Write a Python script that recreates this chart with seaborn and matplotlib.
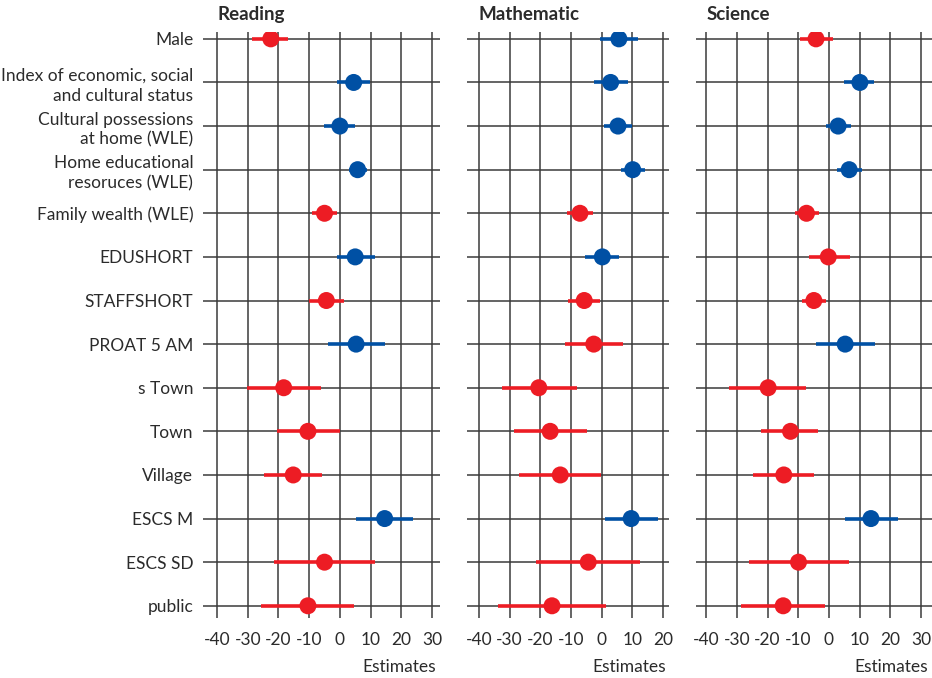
import numpy as np
import pandas as pd
import matplotlib.pyplot as plt
import matplotlib.transforms as mtransforms
import seaborn as sns

# Rows, top to bottom
categories = [
    'Male',
    'Index of economic, social\nand cultural status',
    'Cultural possessions\nat home (WLE)',
    'Home educational\nresoruces (WLE)',
    'Family wealth (WLE)',
    'EDUSHORT',
    'STAFFSHORT',
    'PROAT 5 AM',
    's Town',
    'Town',
    'Village',
    'ESCS M',
    'ESCS SD',
    'public',
]

subjects = ['Reading', 'Mathematic', 'Science']

# Point estimates and interval bounds
reading_est = [-22.5, 4.5, 0.0, 5.8, -5.0, 5.0, -4.4, 5.3, -18.3, -10.4, -15.2, 14.6, -5.0, -10.4]
reading_lo = [-28.5, -0.8, -5.1, 3.0, -9.0, -1.0, -10.0, -3.8, -30.4, -20.5, -24.7, 5.4, -21.4, -25.7]
reading_hi = [-17.0, 9.9, 5.0, 8.7, -1.0, 11.3, 1.2, 14.6, -6.0, -0.1, -5.7, 23.9, 11.3, 4.7]

math_est = [5.6, 2.9, 5.3, 10.1, -7.1, 0.2, -5.7, -2.6, -20.5, -16.8, -13.5, 9.6, -4.4, -16.2]
math_lo = [-0.6, -2.5, 0.6, 6.3, -11.2, -5.4, -10.9, -11.9, -32.5, -28.6, -27.0, 1.0, -21.3, -33.9]
math_hi = [11.9, 8.5, 9.9, 14.2, -3.0, 5.6, -0.4, 6.9, -8.2, -4.9, -0.1, 18.4, 12.5, 1.5]

science_est = [-4.2, 10.1, 3.0, 6.6, -7.3, -0.2, -4.9, 5.3, -19.8, -12.5, -14.7, 13.7, -9.9, -14.9]
science_lo = [-9.5, 4.9, -1.0, 2.5, -11.1, -6.5, -8.8, -4.2, -32.4, -22.0, -24.7, 5.2, -26.0, -28.8]
science_hi = [1.2, 14.7, 7.2, 10.7, -3.2, 6.9, -0.8, 15.0, -7.3, -3.4, -4.9, 22.6, 6.6, -1.3]

series = {
    'Reading': (reading_est, reading_lo, reading_hi),
    'Mathematic': (math_est, math_lo, math_hi),
    'Science': (science_est, science_lo, science_hi),
}

frames = []
for subj in subjects:
    est, lo, hi = series[subj]
    frames.append(pd.DataFrame({
        'subject': subj,
        'variable': categories,
        'row': np.arange(len(categories)),
        'est': est,
        'lo': lo,
        'hi': hi,
    }))
df = pd.concat(frames, ignore_index=True)
df['sign'] = np.where(df['est'] < 0, 'neg', 'pos')

palette = {'neg': '#ED1C24', 'pos': '#0050A4'}
text_color = '#2b2b2b'
grid_color = '#3a3a3a'

sns.set_theme(style='white')
plt.rcParams['font.family'] = ['Lato', 'DejaVu Sans']
plt.rcParams['axes.unicode_minus'] = False

xlims = {'Reading': (-44.6, 32.6), 'Mathematic': (-43.8, 21.9), 'Science': (-43.2, 33.6)}
xticks = {'Reading': np.arange(-40, 31, 10), 'Mathematic': np.arange(-40, 21, 10),
          'Science': np.arange(-40, 31, 10)}
widths = [xlims[s][1] - xlims[s][0] for s in subjects]

fig, axes = plt.subplots(1, 3, figsize=(9.32, 6.78), dpi=100,
                         gridspec_kw={'width_ratios': widths})
fig.subplots_adjust(left=0.2178, right=1.0, top=0.953, bottom=0.0885, wspace=0.122)

for i, (ax, subj) in enumerate(zip(axes, subjects)):
    d = df[df['subject'] == subj]
    for sign, color in palette.items():
        s = d[d['sign'] == sign]
        ax.hlines(s['row'], s['lo'], s['hi'], color=color, lw=2.6, zorder=3)
    sns.scatterplot(data=d, x='est', y='row', hue='sign', palette=palette,
                    s=150, linewidth=0, legend=False, ax=ax, zorder=4)

    ax.set_xlim(*xlims[subj])
    ax.set_ylim(len(categories) - 1 + 0.28, -0.16)
    ax.set_xticks(xticks[subj])
    ax.set_xticklabels([str(t) for t in xticks[subj]])
    ax.set_yticks(np.arange(len(categories)))
    ax.grid(True, color=grid_color, lw=1.1)
    ax.set_axisbelow(True)
    for sp in ax.spines.values():
        sp.set_visible(False)
    ax.tick_params(length=0, labelsize=12.5, colors=text_color, pad=10)
    ax.tick_params(axis='y', pad=7)
    if i == 0:
        ax.set_yticklabels(categories, linespacing=1.3)
    else:
        ax.tick_params(labelleft=False)
    ax.set_ylabel('')
    ax.set_xlabel('Estimates', fontsize=12.5, color=text_color, ha='right')
    ax.xaxis.set_label_coords(0.985, -0.07)

    trans = mtransforms.blended_transform_factory(ax.transData, ax.transAxes)
    ax.text(-40, 1.03, subj, transform=trans, fontsize=13.5, fontweight='bold',
            color=text_color, ha='left', va='center')

plt.savefig('out.png', dpi=100)
